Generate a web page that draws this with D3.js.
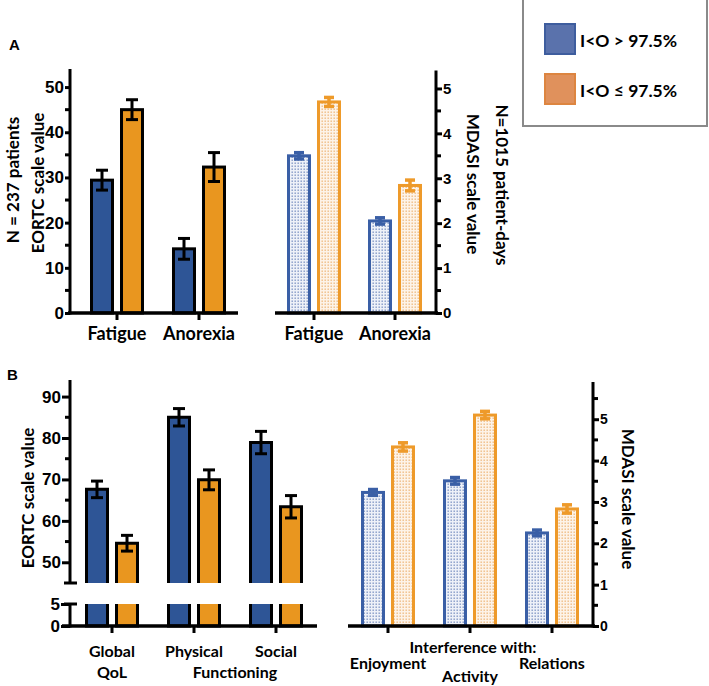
<!DOCTYPE html>
<html><head><meta charset="utf-8">
<script src="https://cdn.jsdelivr.net/npm/d3@7"></script>
<style>
body{margin:0;background:#fff;}
svg{display:block;}
.tick text{font-family:"Liberation Sans",Arial,sans-serif;font-weight:bold;}
</style></head>
<body><svg id="c" width="709" height="686"></svg>
<script>
// ---------- DATA ----------
const seriesNames = ["I<O > 97.5%", "I<O \u2264 97.5%"];
const symptomsA = ["Fatigue", "Anorexia"];
const eortcHighA = [29.4, 14.2];
const eortcHighAErr = [2.2, 2.3];
const eortcLowA = [45.0, 32.3];
const eortcLowAErr = [2.2, 3.2];
const mdasiHighA = [3.50, 2.05];
const mdasiHighAErr = [0.07, 0.07];
const mdasiLowA = [4.70, 2.84];
const mdasiLowAErr = [0.10, 0.12];

const functionsB = ["Global QoL", "Physical", "Social"];
const eortcHighB = [67.6, 85.0, 78.9];
const eortcHighBErr = [2.0, 2.1, 2.7];
const eortcLowB = [54.6, 69.9, 63.4];
const eortcLowBErr = [1.9, 2.4, 2.7];

const interferenceB = ["Enjoyment", "Activity", "Relations"];
const mdasiHighB = [3.23, 3.51, 2.25];
const mdasiHighBErr = [0.07, 0.08, 0.07];
const mdasiLowB = [4.33, 5.10, 2.83];
const mdasiLowBErr = [0.10, 0.09, 0.10];

const eortcTicksA = [0, 10, 20, 30, 40, 50];
const mdasiTicks = [0, 1, 2, 3, 4, 5];
const eortcTicksBUpper = [50, 60, 70, 80, 90];
const eortcTicksBLower = [0, 5];

// ---------- STYLE ----------
const BLUE = "#2E5596", ORANGE = "#E9961F";
const LBLUE = "#3A5FA6", LORANGE = "#EE9A2A";
const TXT = "'Lato','Open Sans',sans-serif";
const svg = d3.select("#c");
const defs = svg.append("defs");
function pat(id, bg, dot) {
  const p = defs.append("pattern").attr("id", id).attr("patternUnits", "userSpaceOnUse")
    .attr("width", 3).attr("height", 3);
  p.append("rect").attr("width", 3).attr("height", 3).attr("fill", bg);
  p.append("rect").attr("x", 0.5).attr("y", 0.5).attr("width", 1.4).attr("height", 1.4).attr("fill", dot);
}
pat("pb", "#eef1f8", "#7f95c4");
pat("po", "#fdf3e8", "#efbb80");

const sub = d3.scaleBand().domain([0, 1]).range([-27, 27]).paddingInner(0.2);

function yAxis(g, y, ticks, minors, side, fs, tl) {
  const ax = (side === "left" ? d3.axisLeft(y) : d3.axisRight(y))
    .tickValues(ticks).tickSize(tl).tickPadding(1).tickFormat(d3.format("d"));
  g.call(ax);
  g.select(".domain").remove();
  g.selectAll(".tick line").attr("stroke", "#000").attr("stroke-width", 3);
  g.selectAll(".tick text").attr("font-size", fs).attr("fill", "#000");
  const dir = side === "left" ? -1 : 1;
  g.selectAll(".minor").data(minors).join("line")
    .attr("x1", 0).attr("x2", dir * 5).attr("y1", d => y(d)).attr("y2", d => y(d))
    .attr("stroke", "#000").attr("stroke-width", 3);
}
function vline(g, x, y1, y2) {
  g.append("line").attr("x1", x).attr("x2", x).attr("y1", y1).attr("y2", y2)
    .attr("stroke", "#000").attr("stroke-width", 3);
}
function xAxisLine(g, x1, x2, y, tickXs) {
  g.append("line").attr("x1", x1).attr("x2", x2).attr("y1", y).attr("y2", y)
    .attr("stroke", "#000").attr("stroke-width", 3.5);
  g.selectAll(null).data(tickXs).join("line")
    .attr("x1", d => d).attr("x2", d => d).attr("y1", y).attr("y2", y + 7)
    .attr("stroke", "#000").attr("stroke-width", 3);
}
function errBar(g, cx, yTop, yBot, color, cap, sw) {
  g.append("line").attr("x1", cx).attr("x2", cx).attr("y1", yTop).attr("y2", yBot).attr("stroke", color).attr("stroke-width", sw);
  g.append("line").attr("x1", cx - cap / 2).attr("x2", cx + cap / 2).attr("y1", yTop).attr("y2", yTop).attr("stroke", color).attr("stroke-width", sw);
  g.append("line").attr("x1", cx - cap / 2).attr("x2", cx + cap / 2).attr("y1", yBot).attr("y2", yBot).attr("stroke", color).attr("stroke-width", sw);
}
function solidBars(g, xg, y, groups, vals, errs) {
  groups.forEach((grp, i) => {
    [0, 1].forEach(s => {
      const x0 = xg(grp) + sub(s) + 1.5, w = sub.bandwidth() - 3;
      const v = vals[s][i], e = errs[s][i];
      g.append("rect").attr("x", x0).attr("y", y(v)).attr("width", w).attr("height", y.range()[0] - y(v))
        .attr("fill", s ? ORANGE : BLUE).attr("stroke", "#000").attr("stroke-width", 3);
      errBar(g, x0 + w / 2, y(v + e), y(v - e), "#000", 12, 3);
    });
  });
}
function patBars(g, xg, y, groups, vals, errs) {
  groups.forEach((grp, i) => {
    [0, 1].forEach(s => {
      const x0 = xg(grp) + sub(s) + 1.5, w = sub.bandwidth() - 3;
      const v = vals[s][i], e = errs[s][i];
      const col = s ? LORANGE : LBLUE;
      g.append("rect").attr("x", x0).attr("y", y(v)).attr("width", w).attr("height", y(0) - y(v))
        .attr("fill", s ? "url(#po)" : "url(#pb)").attr("stroke", col).attr("stroke-width", 3);
      errBar(g, x0 + w / 2, y(v + e), y(v - e), col, 10, 3.5);
    });
  });
}
function label(x, y, t, fs, anchor, rot) {
  const tx = svg.append("text").attr("font-family", TXT).attr("font-weight", "bold").attr("font-size", fs)
    .attr("text-anchor", anchor || "middle").attr("dominant-baseline", "central").attr("fill", "#000").text(t);
  if (rot) tx.attr("transform", `translate(${x},${y}) rotate(${rot})`);
  else tx.attr("x", x).attr("y", y);
  return tx;
}

// ---------- PANEL A LEFT ----------
{
  const g = svg.append("g");
  const y = d3.scaleLinear().domain([0, 54]).range([313, 69]);
  const xg = d3.scalePoint().domain(symptomsA).range([117, 199]);
  solidBars(g, xg, y, symptomsA, [eortcHighA, eortcLowA], [eortcHighAErr, eortcLowAErr]);
  const ag = g.append("g").attr("transform", "translate(70,0)");
  yAxis(ag, y, eortcTicksA, [5, 15, 25, 35, 45], "left", 17, 5);
  vline(g, 70, y(54), y(0) + 1.5);
  xAxisLine(g, 68, 238, y(0), symptomsA.map(xg));
  symptomsA.forEach(s => label(xg(s), 333, s, 18));
}
// ---------- PANEL A RIGHT ----------
{
  const g = svg.append("g");
  const y = d3.scaleLinear().domain([0, 5.4]).range([313, 70.5]);
  const xg = d3.scalePoint().domain(symptomsA).range([314, 395]);
  patBars(g, xg, y, symptomsA, [mdasiHighA, mdasiLowA], [mdasiHighAErr, mdasiLowAErr]);
  const ag = g.append("g").attr("transform", "translate(436,0)");
  yAxis(ag, y, mdasiTicks, [0.5, 1.5, 2.5, 3.5, 4.5], "right", 15, 6);
  vline(g, 436, y(5.4), y(0) + 1.5);
  xAxisLine(g, 275, 438, y(0), symptomsA.map(xg));
  symptomsA.forEach(s => label(xg(s), 333, s, 18));
}
label(12, 180, "N = 237 patients", 17, "middle", -90);
label(37, 183, "EORTC scale value", 17, "middle", -90);
label(473, 184, "MDASI scale value", 17, "middle", 90);
label(502, 185, "N=1015 patient-days", 17, "middle", 90);

// ---------- PANEL B LEFT (broken axis) ----------
{
  const g = svg.append("g");
  const yU = d3.scaleLinear().domain([45, 94]).range([583, 380]);
  const yL = d3.scaleLinear().domain([0, 5]).range([626, 604]);
  const xg = d3.scalePoint().domain(functionsB).range([112, 276]);
  const vals = [eortcHighB, eortcLowB], errs = [eortcHighBErr, eortcLowBErr];
  functionsB.forEach((grp, i) => {
    [0, 1].forEach(s => {
      const x0 = xg(grp) + sub(s) + 1.5, w = sub.bandwidth() - 3;
      const v = vals[s][i], e = errs[s][i];
      const fill = s ? ORANGE : BLUE;
      g.append("rect").attr("x", x0).attr("y", yU(v)).attr("width", w).attr("height", yU(45) - yU(v)).attr("fill", fill);
      g.append("path").attr("d", `M${x0},${yU(45)}V${yU(v)}H${x0 + w}V${yU(45)}`)
        .attr("fill", "none").attr("stroke", "#000").attr("stroke-width", 3);
      g.append("rect").attr("x", x0).attr("y", yL(5)).attr("width", w).attr("height", yL(0) - yL(5)).attr("fill", fill);
      g.append("path").attr("d", `M${x0},${yL(5)}V${yL(0)}H${x0 + w}V${yL(5)}`)
        .attr("fill", "none").attr("stroke", "#000").attr("stroke-width", 3);
      errBar(g, x0 + w / 2, yU(v + e), yU(v - e), "#000", 12, 3);
    });
  });
  const agU = g.append("g").attr("transform", "translate(70,0)");
  yAxis(agU, yU, eortcTicksBUpper, [55, 65, 75, 85], "left", 17, 8);
  const agL = g.append("g").attr("transform", "translate(70,0)");
  yAxis(agL, yL, eortcTicksBLower, [], "left", 17, 9);
  vline(g, 70, yU(94), yU(45));
  vline(g, 70, yL(5), yL(0) + 1.5);
  g.append("line").attr("x1", 64).attr("x2", 77).attr("y1", yU(45)).attr("y2", yU(45)).attr("stroke", "#000").attr("stroke-width", 3);
  g.append("line").attr("x1", 64).attr("x2", 77).attr("y1", yL(5)).attr("y2", yL(5)).attr("stroke", "#000").attr("stroke-width", 3);
  xAxisLine(g, 62, 317, yL(0), functionsB.map(xg));
  label(xg("Global QoL"), 650, "Global", 16);
  label(xg("Global QoL"), 671, "QoL", 16);
  label(xg("Physical"), 650, "Physical", 16);
  label(xg("Social"), 650, "Social", 16);
  label((xg("Physical") + xg("Social")) / 2, 671, "Functioning", 16);
}
label(27, 498, "EORTC scale value", 17, "middle", -90);

// ---------- PANEL B RIGHT ----------
{
  const g = svg.append("g");
  const y = d3.scaleLinear().domain([0, 5.9]).range([626, 382]);
  const xg = d3.scalePoint().domain(interferenceB).range([388, 552]);
  patBars(g, xg, y, interferenceB, [mdasiHighB, mdasiLowB], [mdasiHighBErr, mdasiLowBErr]);
  const ag = g.append("g").attr("transform", "translate(593,0)");
  yAxis(ag, y, mdasiTicks, [0.5, 1.5, 2.5, 3.5, 4.5, 5.5], "right", 14, 6);
  vline(g, 593, y(5.9), y(0) + 1.5);
  xAxisLine(g, 348, 595, y(0), interferenceB.map(xg));
  label(473, 646, "Interference with:", 16);
  label(xg("Enjoyment"), 662, "Enjoyment", 16);
  label(xg("Activity"), 675, "Activity", 16);
  label(xg("Relations"), 662, "Relations", 16);
}
label(628, 499, "MDASI scale value", 17, "middle", 90);

// ---------- Panel letters ----------
svg.append("text").attr("x", 9).attr("y", 50).attr("font-family", "'Liberation Sans',Arial,sans-serif")
  .attr("font-weight", "bold").attr("font-size", 15).text("A");
svg.append("text").attr("x", 7).attr("y", 380).attr("font-family", "'Liberation Sans',Arial,sans-serif")
  .attr("font-weight", "bold").attr("font-size", 15).text("B");

// ---------- LEGEND ----------
{
  const lg = svg.append("g");
  lg.append("rect").attr("x", 523).attr("y", -2).attr("width", 184).attr("height", 128)
    .attr("fill", "#fff").attr("stroke", "#8a8a8a").attr("stroke-width", 2);
  const sw = [{ f: "#5A72AC", s: "#3E5D9E" }, { f: "#E0915C", s: "#DD8540" }];
  seriesNames.forEach((n, i) => {
    lg.append("rect").attr("x", 545).attr("y", 24 + i * 50).attr("width", 30).attr("height", 30)
      .attr("fill", sw[i].f).attr("stroke", sw[i].s).attr("stroke-width", 2);
    lg.append("text").attr("x", 580).attr("y", 40 + i * 50).attr("dominant-baseline", "central")
      .attr("font-family", TXT).attr("font-weight", "bold").attr("font-size", 17.5).text(n);
  });
}
</script></body></html>
